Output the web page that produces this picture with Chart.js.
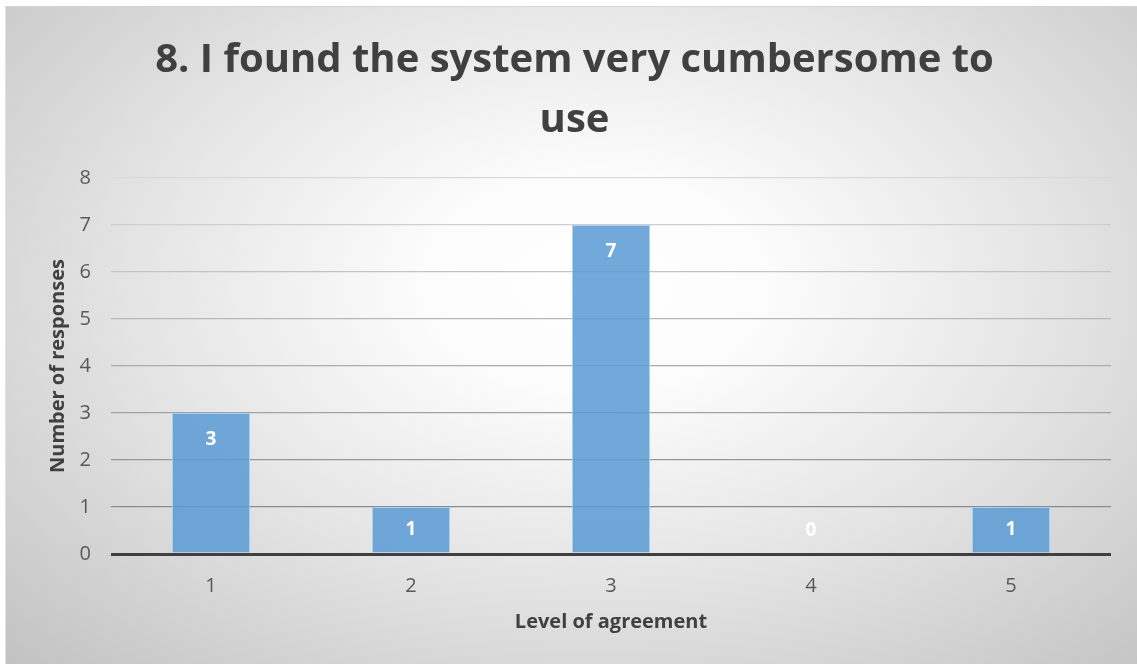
<!DOCTYPE html>
<html>
<head>
<meta charset="utf-8">
<script src="https://cdn.jsdelivr.net/npm/chart.js@4/dist/chart.umd.min.js"></script>
<style>
  html, body { margin: 0; padding: 0; background: #ffffff; overflow: hidden; }
  #frame {
    position: absolute; left: 5px; top: 6px;
    width: 1131px; height: 657px;
    border-top: 1px solid #d4d4d4; border-left: 1px solid #e2e2e2;
    background: radial-gradient(ellipse farthest-corner at 52% 42%, #ffffff 0%, #fcfcfc 20%, #e3e3e3 57%, #c2c2c2 100%);
  }
  canvas { display: block; }
</style>
</head>
<body>
<div id="frame"><canvas id="chart" width="1131" height="657"></canvas></div>
<script>
// Survey item 8: distribution of answers on the 1–5 agreement scale
const titleLines = ['8. I found the system very cumbersome to', 'use'];
const agreementLevels = ['1', '2', '3', '4', '5'];
const responseCounts = [3, 1, 7, 0, 1];
const yTickValues = [0, 1, 2, 3, 4, 5, 6, 7, 8];
const xAxisTitle = 'Level of agreement';
const yAxisTitle = 'Number of responses';

const FONT = "'Open Sans', 'Noto Sans', sans-serif";

// gridlines fade from dark near the baseline to light at the top
function gridShade(v) {
  if (v === 0) return '#404040';
  const g = Math.round(140 + (217 - 140) * (v - 1) / 7);
  return `rgb(${g},${g},${g})`;
}

// white value labels near the top of each column
const valueLabels = {
  id: 'valueLabels',
  afterDatasetsDraw(chart) {
    const { ctx } = chart;
    const meta = chart.getDatasetMeta(0);
    ctx.save();
    ctx.font = `bold 19px ${FONT}`;
    ctx.fillStyle = '#ffffff';
    ctx.textAlign = 'center';
    ctx.textBaseline = 'middle';
    meta.data.forEach((bar, i) => {
      const y = Math.min(bar.y + 27, bar.base - 23);
      ctx.fillText(String(responseCounts[i]), bar.x, y);
    });
    ctx.restore();
  }
};

new Chart(document.getElementById('chart'), {
  type: 'bar',
  data: {
    labels: agreementLevels,
    datasets: [{
      data: responseCounts,
      backgroundColor: 'rgba(91,155,213,0.86)',
      borderColor: 'rgba(170,204,236,0.95)',
      borderWidth: 1,
      borderSkipped: 'bottom',
      categoryPercentage: 1,
      barPercentage: 0.39
    }]
  },
  options: {
    responsive: false,
    animation: false,
    layout: { padding: { top: 0, left: 32, right: 26, bottom: 0 } },
    plugins: {
      legend: { display: false },
      tooltip: { enabled: false },
      title: {
        display: true,
        text: titleLines,
        color: '#404040',
        font: { family: FONT, size: 40, weight: 'bold', lineHeight: 1.5 },
        padding: { top: 24, bottom: 27 }
      }
    },
    scales: {
      x: {
        grid: { display: false, drawTicks: false },
        border: { display: false },
        ticks: { color: '#595959', font: { family: FONT, size: 20 }, padding: 20 },
        title: {
          display: true, text: xAxisTitle, color: '#404040',
          font: { family: FONT, size: 20, weight: 'bold', lineHeight: 1.2 },
          padding: { top: 0, bottom: 30 }
        },
        afterFit(s) { s.height = 110; }
      },
      y: {
        min: 0, max: 8,
        afterBuildTicks(s) { s.ticks = yTickValues.map(v => ({ value: v })); },
        grid: {
          drawTicks: false,
          color: c => gridShade(c.tick.value),
          lineWidth: c => (c.tick.value === 0 ? 3 : 1.3)
        },
        border: { display: false },
        ticks: { color: '#595959', font: { family: FONT, size: 20 }, padding: 20 },
        title: {
          display: true, text: yAxisTitle, color: '#404040',
          font: { family: FONT, size: 20, weight: 'bold', lineHeight: 1.2 },
          padding: { top: 8, bottom: 0 }
        },
        afterFit(s) { s.width = 73; }
      }
    }
  },
  plugins: [valueLabels]
});
</script>
</body>
</html>
